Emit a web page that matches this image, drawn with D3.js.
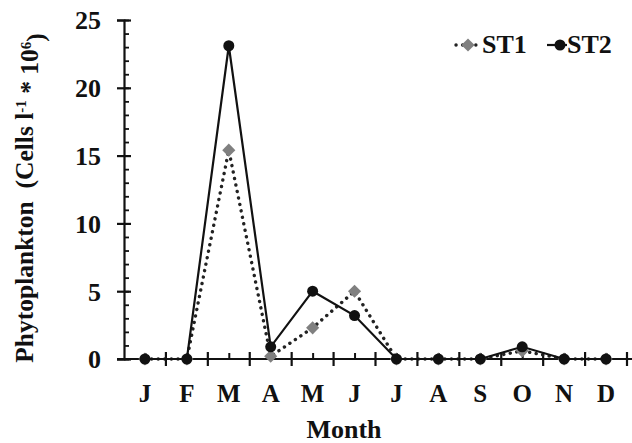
<!DOCTYPE html>
<html>
<head>
<meta charset="utf-8">
<script src="https://cdn.jsdelivr.net/npm/d3@7"></script>
<style>
body { margin: 0; background: #fff; }
text { font-family: "Liberation Serif", "Times New Roman", serif; font-weight: bold; fill: #111; }
.domain, .tick line { stroke: #111; }
</style>
</head>
<body>
<div id="chart"></div>
<script>
// data
var months = ["J", "F", "M", "A", "M", "J", "J", "A", "S", "O", "N", "D"];
var st1 = [0, 0, 15.4, 0.2, 2.3, 5.0, 0, 0, 0, 0.6, 0, 0];
var st2 = [0, 0, 23.1, 0.9, 5.0, 3.2, 0, 0, 0, 0.9, 0, 0];
var yTicks = [0, 5, 10, 15, 20, 25];

var width = 632, height = 443;
var plotLeft = 124, plotRight = 627, plotTop = 20, plotBottom = 359;

var svg = d3.select("#chart").append("svg")
    .attr("width", width)
    .attr("height", height);

var idx = d3.range(months.length);
var x = d3.scalePoint().domain(idx).range([plotLeft, plotRight]).padding(0.5);
var y = d3.scaleLinear().domain([0, 25]).range([plotBottom, plotTop]);
var step = x.step();

//y axis, labels + major ticks to the left
var yAxis = svg.append("g")
    .attr("transform", "translate(" + plotLeft + ",0)")
    .call(d3.axisLeft(y).tickValues(yTicks).tickSize(7).tickPadding(16));
yAxis.select(".domain").attr("stroke-width", 2.2);
yAxis.selectAll(".tick line").attr("stroke-width", 2.2);
yAxis.selectAll(".tick text").style("font-size", "26px").attr("dy", "0.34em");

//minor ticks every unit, right side
var yMinor = svg.append("g")
    .attr("transform", "translate(" + plotLeft + ",0)")
    .call(d3.axisRight(y).tickValues(d3.range(0, 26)).tickSize(5).tickFormat(""));
yMinor.select(".domain").remove();
yMinor.selectAll(".tick line").attr("stroke-width", 1.8);
svg.append("g")
    .attr("transform", "translate(" + plotLeft + ",0)")
    .call(d3.axisRight(y).tickValues(yTicks).tickSize(7).tickFormat(""))
    .call(function(g){ g.select(".domain").remove(); g.selectAll(".tick line").attr("stroke-width", 2.2); });

//x axis
svg.append("line")
    .attr("x1", plotLeft - 7).attr("x2", width)
    .attr("y1", plotBottom).attr("y2", plotBottom)
    .attr("stroke", "#111").attr("stroke-width", 2.2);

var bounds = idx.map(function(i){ return x(i) + step / 2; });
svg.append("g").selectAll("line.bound")
    .data(bounds)
    .enter().append("line")
    .attr("x1", function(d){ return d; }).attr("x2", function(d){ return d; })
    .attr("y1", plotBottom - 7).attr("y2", plotBottom + 7)
    .attr("stroke", "#111").attr("stroke-width", 2.2);

var xAxis = svg.append("g")
    .attr("transform", "translate(0," + plotBottom + ")")
    .call(d3.axisTop(x).tickSize(6).tickFormat(""));
xAxis.select(".domain").remove();
xAxis.selectAll(".tick line").attr("stroke-width", 2);

svg.append("g").selectAll("text.month")
    .data(idx)
    .enter().append("text")
    .attr("class", "month")
    .attr("x", function(d){ return x(d); })
    .attr("y", 402)
    .attr("text-anchor", "middle")
    .style("font-size", "25px")
    .text(function(d){ return months[d]; });

svg.append("text")
    .attr("x", 344).attr("y", 438)
    .attr("text-anchor", "middle")
    .style("font-size", "26px")
    .text("Month");

var yTitle = svg.append("text")
    .attr("transform", "translate(33,198) rotate(-90)")
    .attr("text-anchor", "middle")
    .style("font-size", "25.5px");
yTitle.append("tspan").text("Phytoplankton\u00a0 (Cells l");
yTitle.append("tspan").attr("dy", "-0.5em").style("font-size", "15px").text("-1");
yTitle.append("tspan").attr("dy", "0.5em").text(" * 10");
yTitle.append("tspan").attr("dy", "-0.5em").style("font-size", "15px").text("6");
yTitle.append("tspan").attr("dy", "0.5em").text(")");

//lines
var line = d3.line()
    .x(function(d, i){ return x(i); })
    .y(function(d){ return y(d); });

svg.append("path")
    .datum(st1)
    .attr("fill", "none")
    .attr("stroke", "#222")
    .attr("stroke-width", 3.4)
    .attr("stroke-linecap", "round")
    .attr("stroke-dasharray", "0.1 6.5")
    .attr("d", line);

svg.append("g").selectAll("path.dia")
    .data(st1)
    .enter().append("path")
    .attr("d", d3.symbol().type(d3.symbolDiamond2).size(110))
    .attr("transform", function(d, i){ return "translate(" + x(i) + "," + y(d) + ")"; })
    .attr("fill", "#808080");

svg.append("path")
    .datum(st2)
    .attr("fill", "none")
    .attr("stroke", "#111")
    .attr("stroke-width", 2.2)
    .attr("d", line);

svg.append("g").selectAll("circle")
    .data(st2)
    .enter().append("circle")
    .attr("cx", function(d, i){ return x(i); })
    .attr("cy", function(d){ return y(d); })
    .attr("r", 5.5)
    .attr("fill", "#111");

//legend
var lg = svg.append("g");
lg.append("line")
    .attr("x1", 456).attr("x2", 480).attr("y1", 45).attr("y2", 45)
    .attr("stroke", "#222").attr("stroke-width", 3.4)
    .attr("stroke-linecap", "round").attr("stroke-dasharray", "0.1 6.5");
lg.append("path")
    .attr("d", d3.symbol().type(d3.symbolDiamond2).size(110))
    .attr("transform", "translate(468,45)")
    .attr("fill", "#808080");
lg.append("text").attr("x", 482).attr("y", 53).style("font-size", "26px").text("ST1");
lg.append("line")
    .attr("x1", 547).attr("x2", 567).attr("y1", 45).attr("y2", 45)
    .attr("stroke", "#111").attr("stroke-width", 2.2);
lg.append("circle").attr("cx", 560).attr("cy", 45).attr("r", 5.5).attr("fill", "#111");
lg.append("text").attr("x", 567).attr("y", 53).style("font-size", "26px").text("ST2");
</script>
</body>
</html>
